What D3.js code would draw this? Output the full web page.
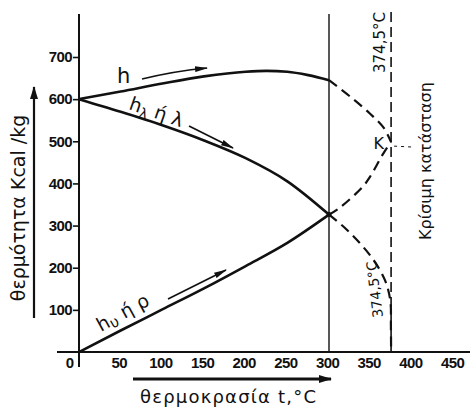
<!DOCTYPE html>
<html>
<head>
<meta charset="utf-8">
<script src="https://cdn.jsdelivr.net/npm/d3@7"></script>
<style>
  html, body { margin: 0; padding: 0; background: #fff; }
  svg { display: block; }
  text { fill: #111; font-family: "DejaVu Sans", sans-serif; }
  .tick text { font-family: "Liberation Sans", sans-serif; font-weight: bold; font-size: 15px; letter-spacing: -0.6px; }
</style>
</head>
<body>
<svg id="chart" width="470" height="411"></svg>
<script>
// Temperature ticks (°C) and enthalpy ticks (kcal/kg)
const xTicks = [0, 50, 100, 150, 200, 250, 300, 350, 400, 450];
const yTicks = [100, 200, 300, 400, 500, 600, 700];

// Critical temperature of water, °C
const criticalTemp = 374.5;
// Boundary of the plotted range
const cutTemp = 300;

// Saturated vapour enthalpy h (solid up to 300 °C)
const vaporTemps = [0, 50, 100, 150, 200, 225, 250, 275, 300];
const vaporH     = [600, 618, 637, 654, 665, 667, 665, 657, 645];
// ... and its dashed continuation to the critical point K
const vaporTempsHi = [300, 326, 349, 366, 374.5];
const vaporHHi     = [645, 605, 566, 531, 498];

// Latent heat hλ (λ)
const latentTemps = [0, 50, 100, 150, 200, 250, 300];
const latentH     = [600, 570, 538, 502, 460, 405, 326];
const latentTempsHi = [300, 322, 351, 367, 373.5, 374.3, 374.5];
const latentHHi     = [326, 289, 225, 171, 123, 60, 0];

// Liquid enthalpy hυ (ρ)
const liquidTemps = [0, 50, 100, 150, 200, 250, 300];
const liquidH     = [0, 51, 101, 151, 204, 259, 326];
const liquidTempsHi = [300, 312, 340, 349, 365.5, 374.5];
const liquidHHi     = [326, 341, 391, 415, 472, 498];

const svg = d3.select("#chart");

const x = d3.scaleLinear().domain([0, 450]).range([79, 454]);
const y = d3.scaleLinear().domain([0, 700]).range([352, 57]);

// Arrowhead markers
const defs = svg.append("defs");
function marker(id, len, wid) {
  defs.append("marker")
    .attr("id", id)
    .attr("markerUnits", "userSpaceOnUse")
    .attr("viewBox", `0 0 ${len} ${wid}`)
    .attr("markerWidth", len).attr("markerHeight", wid)
    .attr("refX", len - 1).attr("refY", wid / 2)
    .attr("orient", "auto")
    .append("path")
    .attr("d", `M0,0L${len},${wid / 2}L0,${wid}Z`)
    .attr("fill", "#111");
}
marker("headSmall", 13, 6);
marker("headBig", 13, 8);

// Axes
const yAxis = d3.axisLeft(y).tickValues(yTicks).tickSize(6).tickPadding(1);
const gy = svg.append("g").attr("transform", `translate(${x(0)},0)`).call(yAxis);
gy.select(".domain").remove();
gy.selectAll(".tick line").attr("stroke", "#111").attr("stroke-width", 1.6);

const xAxis = d3.axisBottom(x).tickValues(xTicks).tickSize(0).tickPadding(5);
const gx = svg.append("g").attr("transform", `translate(0,${y(0)})`).call(xAxis);
gx.select(".domain").remove();
gx.selectAll(".tick text")
  .attr("dy", "0.71em")
  .attr("dx", d => d === 0 ? -10 : -2);

// Axis lines
svg.append("line")
  .attr("x1", x(0)).attr("x2", x(0))
  .attr("y1", 14).attr("y2", 367)
  .attr("stroke", "#111").attr("stroke-width", 2);
svg.append("line")
  .attr("x1", 57).attr("x2", 470)
  .attr("y1", y(0)).attr("y2", y(0))
  .attr("stroke", "#111").attr("stroke-width", 2);

// Vertical line at 300 °C
svg.append("line")
  .attr("x1", x(cutTemp)).attr("x2", x(cutTemp))
  .attr("y1", 14).attr("y2", y(0))
  .attr("stroke", "#111").attr("stroke-width", 1.4);

// Critical temperature line
svg.append("line")
  .attr("x1", x(criticalTemp)).attr("x2", x(criticalTemp))
  .attr("y1", 12).attr("y2", y(0))
  .attr("stroke", "#111").attr("stroke-width", 1.6)
  .attr("stroke-dasharray", "10,5");

// Curves
const solidLine = d3.line().x(d => x(d[0])).y(d => y(d[1])).curve(d3.curveMonotoneX);
const dashLine = d3.line().x(d => x(d[0])).y(d => y(d[1])).curve(d3.curveCatmullRom.alpha(0.5));
const zip = (a, b) => a.map((v, i) => [v, b[i]]);

[[vaporTemps, vaporH], [latentTemps, latentH], [liquidTemps, liquidH]].forEach(([t, h]) => {
  svg.append("path").attr("d", solidLine(zip(t, h)))
    .attr("fill", "none").attr("stroke", "#111").attr("stroke-width", 2.6);
});
[[vaporTempsHi, vaporHHi], [latentTempsHi, latentHHi], [liquidTempsHi, liquidHHi]].forEach(([t, h]) => {
  svg.append("path").attr("d", dashLine(zip(t, h)))
    .attr("fill", "none").attr("stroke", "#111").attr("stroke-width", 2.2)
    .attr("stroke-dasharray", "10,6");
});

// Crossing point marker at 300 °C
svg.append("circle").attr("cx", x(cutTemp)).attr("cy", y(latentH[latentH.length - 1])).attr("r", 2.5).attr("fill", "#111");

// Curve annotations
svg.append("text").attr("x", 117).attr("y", 83).attr("font-size", 21).text("h");
svg.append("path").attr("d", "M142,79 Q175,71 207,68")
  .attr("fill", "none").attr("stroke", "#111").attr("stroke-width", 1.6)
  .attr("marker-end", "url(#headSmall)");

const tl = svg.append("text").attr("transform", "translate(128,109) rotate(19)").attr("font-size", 19);
tl.append("tspan").text("h");
tl.append("tspan").attr("font-size", 14).attr("dy", 4).text("λ");
tl.append("tspan").attr("dy", -4).text(" ή λ");
svg.append("path").attr("d", "M189,126 L233,148")
  .attr("fill", "none").attr("stroke", "#111").attr("stroke-width", 1.6)
  .attr("marker-end", "url(#headSmall)");

const tv = svg.append("text").attr("transform", "translate(101,332) rotate(-29)").attr("font-size", 19);
tv.append("tspan").text("h");
tv.append("tspan").attr("font-size", 15).attr("dy", 3).text("υ");
tv.append("tspan").attr("dy", -3).text(" ή ρ");
svg.append("path").attr("d", "M168,299 L226,270")
  .attr("fill", "none").attr("stroke", "#111").attr("stroke-width", 1.6)
  .attr("marker-end", "url(#headSmall)");

// Critical point K
svg.append("text").attr("x", x(criticalTemp) - 7).attr("y", y(498) + 7)
  .attr("text-anchor", "end").attr("font-size", 16).text("K");
svg.append("line")
  .attr("x1", x(criticalTemp) + 3).attr("x2", 414)
  .attr("y1", y(498) + 4).attr("y2", y(498) + 5)
  .attr("stroke", "#111").attr("stroke-width", 1).attr("stroke-dasharray", "3,4");

// Critical temperature labels
svg.append("text")
  .attr("transform", `translate(${x(criticalTemp) - 6},73) rotate(-90)`)
  .attr("font-size", 15).attr("font-family", "Liberation Sans, sans-serif")
  .text("374,5°C");
svg.append("text")
  .attr("transform", `translate(${x(criticalTemp) - 8},317) rotate(-97)`)
  .attr("font-size", 14).attr("font-family", "Liberation Sans, sans-serif")
  .text("374,5°C");

svg.append("text")
  .attr("transform", "translate(431,240) rotate(-90)")
  .attr("font-size", 16)
  .text("Κρίσιμη κατάσταση");

// Axis titles with arrows
svg.append("text")
  .attr("transform", "translate(25,208) rotate(-90)")
  .attr("text-anchor", "middle").attr("font-size", 19)
  .text("θερμότητα  Kcal /kg");
svg.append("line")
  .attr("x1", 34).attr("x2", 34).attr("y1", 318).attr("y2", 87)
  .attr("stroke", "#111").attr("stroke-width", 2.2)
  .attr("marker-end", "url(#headBig)");

svg.append("text")
  .attr("x", 140).attr("y", 403).attr("font-size", 18).attr("letter-spacing", 1.2)
  .text("θερμοκρασία  t,°C");
svg.append("line")
  .attr("x1", 133).attr("x2", 331).attr("y1", 379).attr("y2", 379)
  .attr("stroke", "#111").attr("stroke-width", 3)
  .attr("marker-end", "url(#headBig)");
</script>
</body>
</html>
